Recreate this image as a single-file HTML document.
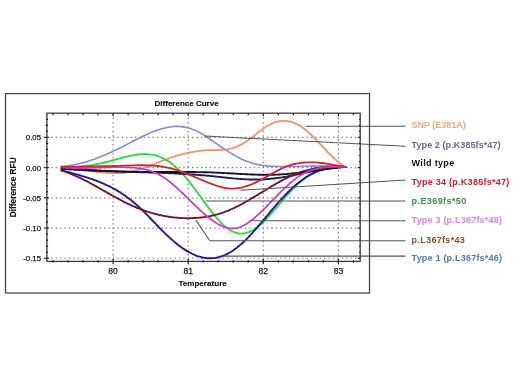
<!DOCTYPE html>
<html><head><meta charset="utf-8"><style>
html,body{margin:0;padding:0;background:#fff;}
svg{display:block;will-change:transform;filter:blur(0.35px);}
</style></head><body>
<svg width="520" height="390" viewBox="0 0 520 390">
<rect width="520" height="390" fill="#fff"/>
<g stroke="#7a7a7a" stroke-width="1.2" stroke-dasharray="1.4 3" fill="none"><line x1="113.10" y1="113.2" x2="113.10" y2="261.4"/><line x1="188.20" y1="113.2" x2="188.20" y2="261.4"/><line x1="263.30" y1="113.2" x2="263.30" y2="261.4"/><line x1="338.40" y1="113.2" x2="338.40" y2="261.4"/><line x1="46.9" y1="137.38" x2="360.2" y2="137.38"/><line x1="46.9" y1="167.60" x2="360.2" y2="167.60"/><line x1="46.9" y1="197.82" x2="360.2" y2="197.82"/><line x1="46.9" y1="228.05" x2="360.2" y2="228.05"/><line x1="46.9" y1="258.27" x2="360.2" y2="258.27"/></g>
<path d="M61.50,166.40 C61.83,166.37 62.83,166.31 63.50,166.25 C64.17,166.19 64.83,166.13 65.50,166.05 C66.17,165.98 66.83,165.90 67.50,165.82 C68.17,165.73 68.83,165.64 69.50,165.54 C70.17,165.44 70.83,165.34 71.50,165.22 C72.17,165.11 72.83,164.99 73.50,164.87 C74.17,164.74 74.83,164.61 75.50,164.47 C76.17,164.34 76.83,164.19 77.50,164.04 C78.17,163.89 78.83,163.74 79.50,163.58 C80.17,163.41 80.83,163.25 81.50,163.07 C82.17,162.90 82.83,162.72 83.50,162.54 C84.17,162.35 84.83,162.16 85.50,161.97 C86.17,161.77 86.83,161.57 87.50,161.37 C88.17,161.16 88.83,160.95 89.50,160.74 C90.17,160.52 90.83,160.30 91.50,160.07 C92.17,159.85 92.83,159.62 93.50,159.38 C94.17,159.15 94.83,158.91 95.50,158.66 C96.17,158.42 96.83,158.17 97.50,157.92 C98.17,157.67 98.83,157.41 99.50,157.15 C100.17,156.88 100.83,156.62 101.50,156.35 C102.17,156.08 102.83,155.80 103.50,155.53 C104.17,155.25 104.83,154.97 105.50,154.68 C106.17,154.40 106.83,154.11 107.50,153.81 C108.17,153.52 108.83,153.23 109.50,152.93 C110.17,152.63 110.83,152.32 111.50,152.02 C112.17,151.71 112.83,151.40 113.50,151.09 C114.17,150.78 114.83,150.46 115.50,150.14 C116.17,149.83 116.83,149.50 117.50,149.18 C118.17,148.86 118.83,148.53 119.50,148.20 C120.17,147.87 120.83,147.54 121.50,147.20 C122.17,146.87 122.83,146.53 123.50,146.20 C124.17,145.86 124.83,145.52 125.50,145.17 C126.17,144.83 126.83,144.49 127.50,144.14 C128.17,143.79 128.83,143.45 129.50,143.10 C130.17,142.75 130.83,142.41 131.50,142.06 C132.17,141.71 132.83,141.37 133.50,141.02 C134.17,140.68 134.83,140.33 135.50,139.99 C136.17,139.64 136.83,139.30 137.50,138.96 C138.17,138.62 138.83,138.29 139.50,137.95 C140.17,137.62 140.83,137.29 141.50,136.96 C142.17,136.63 142.83,136.30 143.50,135.98 C144.17,135.66 144.83,135.35 145.50,135.04 C146.17,134.72 146.83,134.42 147.50,134.12 C148.17,133.81 148.83,133.52 149.50,133.23 C150.17,132.94 150.83,132.65 151.50,132.38 C152.17,132.10 152.83,131.83 153.50,131.57 C154.17,131.30 154.83,131.05 155.50,130.80 C156.17,130.55 156.83,130.31 157.50,130.08 C158.17,129.85 158.83,129.63 159.50,129.41 C160.17,129.20 160.83,129.00 161.50,128.80 C162.17,128.61 162.83,128.42 163.50,128.25 C164.17,128.08 164.83,127.91 165.50,127.76 C166.17,127.61 166.83,127.47 167.50,127.34 C168.17,127.21 168.83,127.09 169.50,126.99 C170.17,126.89 170.83,126.79 171.50,126.71 C172.17,126.64 172.83,126.57 173.50,126.52 C174.17,126.47 174.83,126.43 175.50,126.40 C176.17,126.38 176.83,126.37 177.50,126.38 C178.17,126.38 178.83,126.40 179.50,126.44 C180.17,126.48 180.83,126.53 181.50,126.60 C182.17,126.67 182.83,126.75 183.50,126.85 C184.17,126.95 184.83,127.07 185.50,127.21 C186.17,127.35 186.83,127.50 187.50,127.67 C188.17,127.85 188.83,128.04 189.50,128.25 C190.17,128.46 190.83,128.69 191.50,128.93 C192.17,129.18 192.83,129.44 193.50,129.72 C194.17,130.01 194.83,130.30 195.50,130.62 C196.17,130.93 196.83,131.26 197.50,131.60 C198.17,131.94 198.83,132.30 199.50,132.66 C200.17,133.03 200.83,133.41 201.50,133.80 C202.17,134.19 202.83,134.59 203.50,134.99 C204.17,135.40 204.83,135.82 205.50,136.25 C206.17,136.67 206.83,137.11 207.50,137.54 C208.17,137.98 208.83,138.43 209.50,138.88 C210.17,139.33 210.83,139.78 211.50,140.24 C212.17,140.70 212.83,141.16 213.50,141.62 C214.17,142.08 214.83,142.55 215.50,143.01 C216.17,143.47 216.83,143.94 217.50,144.40 C218.17,144.86 218.83,145.32 219.50,145.78 C220.17,146.24 220.83,146.69 221.50,147.15 C222.17,147.60 222.83,148.05 223.50,148.49 C224.17,148.93 224.83,149.37 225.50,149.81 C226.17,150.24 226.83,150.67 227.50,151.09 C228.17,151.52 228.83,151.94 229.50,152.35 C230.17,152.76 230.83,153.17 231.50,153.56 C232.17,153.96 232.83,154.36 233.50,154.74 C234.17,155.13 234.83,155.51 235.50,155.88 C236.17,156.25 236.83,156.61 237.50,156.96 C238.17,157.32 238.83,157.66 239.50,158.00 C240.17,158.33 240.83,158.66 241.50,158.98 C242.17,159.29 242.83,159.60 243.50,159.90 C244.17,160.20 244.83,160.48 245.50,160.76 C246.17,161.04 246.83,161.30 247.50,161.55 C248.17,161.81 248.83,162.05 249.50,162.28 C250.17,162.51 250.83,162.73 251.50,162.93 C252.17,163.14 252.83,163.33 253.50,163.52 C254.17,163.70 254.83,163.87 255.50,164.03 C256.17,164.19 256.83,164.35 257.50,164.49 C258.17,164.63 258.83,164.76 259.50,164.88 C260.17,165.01 260.83,165.12 261.50,165.22 C262.17,165.33 262.83,165.43 263.50,165.52 C264.17,165.61 264.83,165.69 265.50,165.76 C266.17,165.84 266.83,165.90 267.50,165.97 C268.17,166.03 268.83,166.08 269.50,166.13 C270.17,166.18 270.83,166.22 271.50,166.26 C272.17,166.30 272.83,166.34 273.50,166.37 C274.17,166.40 274.83,166.42 275.50,166.44 C276.17,166.46 276.83,166.48 277.50,166.50 C278.17,166.51 278.83,166.53 279.50,166.54 C280.17,166.55 280.83,166.56 281.50,166.56 C282.17,166.57 282.83,166.57 283.50,166.57 C284.17,166.58 284.83,166.58 285.50,166.58 C286.17,166.58 286.83,166.58 287.50,166.57 C288.17,166.57 288.83,166.56 289.50,166.56 C290.17,166.55 290.83,166.54 291.50,166.54 C292.17,166.53 292.83,166.52 293.50,166.51 C294.17,166.50 294.83,166.49 295.50,166.47 C296.17,166.46 296.83,166.45 297.50,166.44 C298.17,166.42 298.83,166.41 299.50,166.40 C300.17,166.38 300.83,166.37 301.50,166.35 C302.17,166.34 302.83,166.32 303.50,166.31 C304.17,166.30 304.83,166.28 305.50,166.27 C306.17,166.25 306.83,166.24 307.50,166.22 C308.17,166.21 308.83,166.20 309.50,166.18 C310.17,166.17 310.83,166.16 311.50,166.15 C312.17,166.13 312.83,166.12 313.50,166.11 C314.17,166.10 314.83,166.09 315.50,166.09 C316.17,166.08 316.83,166.07 317.50,166.06 C318.17,166.06 318.83,166.05 319.50,166.05 C320.17,166.05 320.83,166.04 321.50,166.04 C322.17,166.04 322.83,166.04 323.50,166.05 C324.17,166.05 324.83,166.05 325.50,166.06 C326.17,166.07 326.83,166.08 327.50,166.09 C328.17,166.10 328.83,166.11 329.50,166.12 C330.17,166.14 330.83,166.16 331.50,166.18 C332.17,166.19 332.83,166.22 333.50,166.24 C334.17,166.27 334.83,166.29 335.50,166.32 C336.17,166.35 336.83,166.39 337.50,166.42 C338.17,166.46 338.83,166.49 339.50,166.54 C340.17,166.58 340.83,166.62 341.50,166.67 C342.17,166.72 342.83,166.77 343.50,166.83 C344.17,166.88 345.17,166.97 345.50,167.00" stroke="#8a86d4" stroke-width="1.6" fill="none" stroke-linejoin="round" stroke-linecap="round"/>
<path d="M61.50,168.00 C61.83,168.01 62.83,168.03 63.50,168.05 C64.17,168.07 64.83,168.10 65.50,168.13 C66.17,168.17 66.83,168.21 67.50,168.25 C68.17,168.29 68.83,168.34 69.50,168.40 C70.17,168.45 70.83,168.51 71.50,168.57 C72.17,168.63 72.83,168.70 73.50,168.77 C74.17,168.84 74.83,168.91 75.50,168.99 C76.17,169.06 76.83,169.14 77.50,169.22 C78.17,169.31 78.83,169.39 79.50,169.48 C80.17,169.56 80.83,169.65 81.50,169.74 C82.17,169.83 82.83,169.92 83.50,170.01 C84.17,170.11 84.83,170.20 85.50,170.29 C86.17,170.39 86.83,170.48 87.50,170.58 C88.17,170.67 88.83,170.77 89.50,170.86 C90.17,170.95 90.83,171.05 91.50,171.14 C92.17,171.23 92.83,171.33 93.50,171.42 C94.17,171.51 94.83,171.60 95.50,171.68 C96.17,171.77 96.83,171.85 97.50,171.94 C98.17,172.02 98.83,172.10 99.50,172.18 C100.17,172.25 100.83,172.33 101.50,172.40 C102.17,172.47 102.83,172.54 103.50,172.60 C104.17,172.67 104.83,172.73 105.50,172.78 C106.17,172.84 106.83,172.89 107.50,172.93 C108.17,172.98 108.83,173.02 109.50,173.05 C110.17,173.09 110.83,173.12 111.50,173.15 C112.17,173.17 112.83,173.19 113.50,173.20 C114.17,173.21 114.83,173.22 115.50,173.22 C116.17,173.22 116.83,173.21 117.50,173.19 C118.17,173.18 118.83,173.15 119.50,173.12 C120.17,173.09 120.83,173.05 121.50,173.01 C122.17,172.96 122.83,172.91 123.50,172.84 C124.17,172.78 124.83,172.70 125.50,172.62 C126.17,172.54 126.83,172.45 127.50,172.35 C128.17,172.24 128.83,172.13 129.50,172.01 C130.17,171.89 130.83,171.76 131.50,171.61 C132.17,171.47 132.83,171.32 133.50,171.16 C134.17,171.00 134.83,170.83 135.50,170.65 C136.17,170.47 136.83,170.28 137.50,170.09 C138.17,169.89 138.83,169.69 139.50,169.48 C140.17,169.27 140.83,169.06 141.50,168.84 C142.17,168.62 142.83,168.39 143.50,168.15 C144.17,167.92 144.83,167.68 145.50,167.44 C146.17,167.20 146.83,166.95 147.50,166.70 C148.17,166.45 148.83,166.19 149.50,165.94 C150.17,165.68 150.83,165.42 151.50,165.16 C152.17,164.90 152.83,164.63 153.50,164.36 C154.17,164.10 154.83,163.83 155.50,163.56 C156.17,163.30 156.83,163.03 157.50,162.76 C158.17,162.49 158.83,162.22 159.50,161.95 C160.17,161.69 160.83,161.42 161.50,161.16 C162.17,160.89 162.83,160.63 163.50,160.37 C164.17,160.11 164.83,159.85 165.50,159.60 C166.17,159.34 166.83,159.09 167.50,158.84 C168.17,158.60 168.83,158.35 169.50,158.12 C170.17,157.88 170.83,157.65 171.50,157.42 C172.17,157.19 172.83,156.97 173.50,156.75 C174.17,156.53 174.83,156.32 175.50,156.11 C176.17,155.90 176.83,155.70 177.50,155.50 C178.17,155.30 178.83,155.11 179.50,154.93 C180.17,154.74 180.83,154.56 181.50,154.38 C182.17,154.20 182.83,154.03 183.50,153.87 C184.17,153.70 184.83,153.54 185.50,153.38 C186.17,153.23 186.83,153.08 187.50,152.93 C188.17,152.79 188.83,152.65 189.50,152.51 C190.17,152.38 190.83,152.25 191.50,152.13 C192.17,152.01 192.83,151.89 193.50,151.78 C194.17,151.66 194.83,151.56 195.50,151.45 C196.17,151.35 196.83,151.26 197.50,151.17 C198.17,151.08 198.83,150.99 199.50,150.91 C200.17,150.83 200.83,150.76 201.50,150.69 C202.17,150.62 202.83,150.56 203.50,150.51 C204.17,150.45 204.83,150.40 205.50,150.35 C206.17,150.31 206.83,150.27 207.50,150.23 C208.17,150.20 208.83,150.17 209.50,150.15 C210.17,150.13 210.83,150.11 211.50,150.10 C212.17,150.08 212.83,150.08 213.50,150.07 C214.17,150.06 214.83,150.06 215.50,150.05 C216.17,150.04 216.83,150.04 217.50,150.03 C218.17,150.02 218.83,150.01 219.50,149.99 C220.17,149.96 220.83,149.94 221.50,149.91 C222.17,149.87 222.83,149.83 223.50,149.78 C224.17,149.73 224.83,149.67 225.50,149.59 C226.17,149.52 226.83,149.43 227.50,149.33 C228.17,149.22 228.83,149.10 229.50,148.97 C230.17,148.83 230.83,148.68 231.50,148.50 C232.17,148.33 232.83,148.13 233.50,147.91 C234.17,147.70 234.83,147.46 235.50,147.20 C236.17,146.94 236.83,146.66 237.50,146.36 C238.17,146.06 238.83,145.74 239.50,145.41 C240.17,145.07 240.83,144.72 241.50,144.35 C242.17,143.98 242.83,143.59 243.50,143.19 C244.17,142.79 244.83,142.37 245.50,141.94 C246.17,141.51 246.83,141.06 247.50,140.60 C248.17,140.14 248.83,139.67 249.50,139.19 C250.17,138.71 250.83,138.21 251.50,137.71 C252.17,137.20 252.83,136.69 253.50,136.17 C254.17,135.66 254.83,135.13 255.50,134.61 C256.17,134.09 256.83,133.56 257.50,133.04 C258.17,132.52 258.83,132.00 259.50,131.49 C260.17,130.98 260.83,130.47 261.50,129.97 C262.17,129.48 262.83,128.99 263.50,128.51 C264.17,128.04 264.83,127.58 265.50,127.13 C266.17,126.69 266.83,126.26 267.50,125.85 C268.17,125.45 268.83,125.06 269.50,124.70 C270.17,124.34 270.83,124.00 271.50,123.69 C272.17,123.38 272.83,123.09 273.50,122.83 C274.17,122.57 274.83,122.33 275.50,122.12 C276.17,121.91 276.83,121.72 277.50,121.56 C278.17,121.40 278.83,121.27 279.50,121.16 C280.17,121.05 280.83,120.97 281.50,120.91 C282.17,120.85 282.83,120.82 283.50,120.81 C284.17,120.80 284.83,120.82 285.50,120.87 C286.17,120.91 286.83,120.98 287.50,121.07 C288.17,121.17 288.83,121.29 289.50,121.44 C290.17,121.58 290.83,121.76 291.50,121.95 C292.17,122.15 292.83,122.38 293.50,122.63 C294.17,122.88 294.83,123.15 295.50,123.46 C296.17,123.76 296.83,124.08 297.50,124.44 C298.17,124.79 298.83,125.17 299.50,125.58 C300.17,125.98 300.83,126.42 301.50,126.87 C302.17,127.33 302.83,127.81 303.50,128.32 C304.17,128.82 304.83,129.34 305.50,129.89 C306.17,130.43 306.83,131.00 307.50,131.58 C308.17,132.16 308.83,132.76 309.50,133.37 C310.17,133.98 310.83,134.61 311.50,135.25 C312.17,135.89 312.83,136.55 313.50,137.21 C314.17,137.87 314.83,138.55 315.50,139.23 C316.17,139.91 316.83,140.60 317.50,141.29 C318.17,141.98 318.83,142.68 319.50,143.38 C320.17,144.09 320.83,144.79 321.50,145.50 C322.17,146.20 322.83,146.91 323.50,147.61 C324.17,148.31 324.83,149.02 325.50,149.71 C326.17,150.41 326.83,151.11 327.50,151.79 C328.17,152.48 328.83,153.16 329.50,153.83 C330.17,154.50 330.83,155.17 331.50,155.82 C332.17,156.47 332.83,157.11 333.50,157.73 C334.17,158.36 334.83,158.97 335.50,159.57 C336.17,160.16 336.83,160.74 337.50,161.30 C338.17,161.86 338.83,162.41 339.50,162.93 C340.17,163.45 340.83,163.95 341.50,164.43 C342.17,164.91 342.83,165.36 343.50,165.79 C344.17,166.22 345.17,166.80 345.50,167.00" stroke="#e8956a" stroke-width="1.8" fill="none" stroke-linejoin="round" stroke-linecap="round"/>
<path d="M61.50,167.00 C61.83,167.02 62.83,167.07 63.50,167.10 C64.17,167.13 64.83,167.15 65.50,167.16 C66.17,167.18 66.83,167.19 67.50,167.19 C68.17,167.19 68.83,167.19 69.50,167.19 C70.17,167.18 70.83,167.16 71.50,167.15 C72.17,167.13 72.83,167.10 73.50,167.08 C74.17,167.05 74.83,167.01 75.50,166.97 C76.17,166.94 76.83,166.89 77.50,166.84 C78.17,166.79 78.83,166.74 79.50,166.68 C80.17,166.62 80.83,166.56 81.50,166.49 C82.17,166.42 82.83,166.35 83.50,166.27 C84.17,166.19 84.83,166.11 85.50,166.02 C86.17,165.94 86.83,165.85 87.50,165.75 C88.17,165.66 88.83,165.56 89.50,165.45 C90.17,165.35 90.83,165.24 91.50,165.13 C92.17,165.02 92.83,164.90 93.50,164.78 C94.17,164.67 94.83,164.54 95.50,164.42 C96.17,164.29 96.83,164.16 97.50,164.02 C98.17,163.89 98.83,163.75 99.50,163.61 C100.17,163.47 100.83,163.33 101.50,163.18 C102.17,163.03 102.83,162.88 103.50,162.73 C104.17,162.57 104.83,162.42 105.50,162.26 C106.17,162.10 106.83,161.93 107.50,161.77 C108.17,161.60 108.83,161.43 109.50,161.26 C110.17,161.09 110.83,160.92 111.50,160.74 C112.17,160.56 112.83,160.38 113.50,160.20 C114.17,160.02 114.83,159.84 115.50,159.65 C116.17,159.47 116.83,159.28 117.50,159.09 C118.17,158.91 118.83,158.72 119.50,158.54 C120.17,158.35 120.83,158.17 121.50,157.99 C122.17,157.80 122.83,157.62 123.50,157.44 C124.17,157.27 124.83,157.09 125.50,156.92 C126.17,156.75 126.83,156.58 127.50,156.42 C128.17,156.26 128.83,156.11 129.50,155.96 C130.17,155.81 130.83,155.66 131.50,155.52 C132.17,155.39 132.83,155.26 133.50,155.14 C134.17,155.01 134.83,154.90 135.50,154.80 C136.17,154.69 136.83,154.60 137.50,154.51 C138.17,154.43 138.83,154.35 139.50,154.29 C140.17,154.22 140.83,154.17 141.50,154.13 C142.17,154.09 142.83,154.06 143.50,154.05 C144.17,154.04 144.83,154.03 145.50,154.05 C146.17,154.06 146.83,154.09 147.50,154.13 C148.17,154.18 148.83,154.23 149.50,154.31 C150.17,154.39 150.83,154.48 151.50,154.59 C152.17,154.69 152.83,154.82 153.50,154.96 C154.17,155.11 154.83,155.27 155.50,155.45 C156.17,155.63 156.83,155.82 157.50,156.04 C158.17,156.26 158.83,156.49 159.50,156.75 C160.17,157.00 160.83,157.28 161.50,157.57 C162.17,157.86 162.83,158.18 163.50,158.51 C164.17,158.84 164.83,159.20 165.50,159.57 C166.17,159.95 166.83,160.35 167.50,160.76 C168.17,161.18 168.83,161.62 169.50,162.08 C170.17,162.55 170.83,163.03 171.50,163.53 C172.17,164.04 172.83,164.57 173.50,165.12 C174.17,165.67 174.83,166.25 175.50,166.84 C176.17,167.44 176.83,168.06 177.50,168.69 C178.17,169.33 178.83,169.99 179.50,170.67 C180.17,171.34 180.83,172.04 181.50,172.75 C182.17,173.46 182.83,174.19 183.50,174.94 C184.17,175.69 184.83,176.45 185.50,177.23 C186.17,178.00 186.83,178.80 187.50,179.61 C188.17,180.41 188.83,181.23 189.50,182.07 C190.17,182.90 190.83,183.75 191.50,184.61 C192.17,185.46 192.83,186.33 193.50,187.21 C194.17,188.09 194.83,188.98 195.50,189.88 C196.17,190.78 196.83,191.68 197.50,192.59 C198.17,193.51 198.83,194.43 199.50,195.34 C200.17,196.26 200.83,197.19 201.50,198.11 C202.17,199.03 202.83,199.96 203.50,200.88 C204.17,201.80 204.83,202.72 205.50,203.63 C206.17,204.55 206.83,205.46 207.50,206.36 C208.17,207.26 208.83,208.15 209.50,209.03 C210.17,209.91 210.83,210.79 211.50,211.64 C212.17,212.50 212.83,213.35 213.50,214.18 C214.17,215.00 214.83,215.82 215.50,216.61 C216.17,217.41 216.83,218.18 217.50,218.94 C218.17,219.69 218.83,220.43 219.50,221.13 C220.17,221.84 220.83,222.53 221.50,223.19 C222.17,223.85 222.83,224.48 223.50,225.09 C224.17,225.69 224.83,226.27 225.50,226.82 C226.17,227.37 226.83,227.89 227.50,228.38 C228.17,228.87 228.83,229.33 229.50,229.76 C230.17,230.18 230.83,230.58 231.50,230.94 C232.17,231.30 232.83,231.63 233.50,231.93 C234.17,232.22 234.83,232.48 235.50,232.70 C236.17,232.92 236.83,233.10 237.50,233.25 C238.17,233.39 238.83,233.50 239.50,233.57 C240.17,233.64 240.83,233.67 241.50,233.66 C242.17,233.64 242.83,233.59 243.50,233.51 C244.17,233.42 244.83,233.30 245.50,233.14 C246.17,232.98 246.83,232.78 247.50,232.56 C248.17,232.33 248.83,232.07 249.50,231.78 C250.17,231.49 250.83,231.16 251.50,230.81 C252.17,230.46 252.83,230.08 253.50,229.67 C254.17,229.26 254.83,228.83 255.50,228.37 C256.17,227.91 256.83,227.42 257.50,226.91 C258.17,226.40 258.83,225.86 259.50,225.31 C260.17,224.75 260.83,224.18 261.50,223.58 C262.17,222.98 262.83,222.37 263.50,221.73 C264.17,221.10 264.83,220.44 265.50,219.78 C266.17,219.11 266.83,218.42 267.50,217.73 C268.17,217.03 268.83,216.32 269.50,215.60 C270.17,214.88 270.83,214.14 271.50,213.40 C272.17,212.66 272.83,211.90 273.50,211.15 C274.17,210.39 274.83,209.62 275.50,208.85 C276.17,208.08 276.83,207.30 277.50,206.52 C278.17,205.75 278.83,204.96 279.50,204.18 C280.17,203.40 280.83,202.61 281.50,201.83 C282.17,201.05 282.83,200.27 283.50,199.50 C284.17,198.72 284.83,197.95 285.50,197.18 C286.17,196.41 286.83,195.65 287.50,194.90 C288.17,194.15 288.83,193.40 289.50,192.67 C290.17,191.93 290.83,191.21 291.50,190.49 C292.17,189.78 292.83,189.08 293.50,188.39 C294.17,187.71 294.83,187.03 295.50,186.38 C296.17,185.72 296.83,185.08 297.50,184.46 C298.17,183.85 298.83,183.24 299.50,182.66 C300.17,182.08 300.83,181.52 301.50,180.98 C302.17,180.44 302.83,179.93 303.50,179.43 C304.17,178.93 304.83,178.45 305.50,177.99 C306.17,177.53 306.83,177.09 307.50,176.67 C308.17,176.25 308.83,175.85 309.50,175.46 C310.17,175.08 310.83,174.71 311.50,174.36 C312.17,174.01 312.83,173.67 313.50,173.35 C314.17,173.03 314.83,172.73 315.50,172.44 C316.17,172.15 316.83,171.88 317.50,171.62 C318.17,171.37 318.83,171.12 319.50,170.89 C320.17,170.66 320.83,170.44 321.50,170.24 C322.17,170.03 322.83,169.84 323.50,169.66 C324.17,169.48 324.83,169.32 325.50,169.16 C326.17,169.00 326.83,168.86 327.50,168.72 C328.17,168.59 328.83,168.46 329.50,168.35 C330.17,168.23 330.83,168.13 331.50,168.03 C332.17,167.93 332.83,167.85 333.50,167.76 C334.17,167.68 334.83,167.61 335.50,167.55 C336.17,167.48 336.83,167.42 337.50,167.37 C338.17,167.32 338.83,167.27 339.50,167.23 C340.17,167.19 340.83,167.16 341.50,167.13 C342.17,167.10 342.83,167.07 343.50,167.05 C344.17,167.03 345.17,167.01 345.50,167.00" stroke="#30d840" stroke-width="1.85" fill="none" stroke-linejoin="round" stroke-linecap="round"/>
<path d="M61.50,170.30 C61.83,170.39 62.83,170.67 63.50,170.85 C64.17,171.03 64.83,171.21 65.50,171.39 C66.17,171.57 66.83,171.75 67.50,171.93 C68.17,172.11 68.83,172.29 69.50,172.47 C70.17,172.65 70.83,172.83 71.50,173.01 C72.17,173.20 72.83,173.38 73.50,173.56 C74.17,173.74 74.83,173.93 75.50,174.11 C76.17,174.30 76.83,174.48 77.50,174.67 C78.17,174.86 78.83,175.05 79.50,175.24 C80.17,175.44 80.83,175.63 81.50,175.83 C82.17,176.02 82.83,176.22 83.50,176.42 C84.17,176.63 84.83,176.83 85.50,177.04 C86.17,177.25 86.83,177.46 87.50,177.67 C88.17,177.89 88.83,178.10 89.50,178.33 C90.17,178.55 90.83,178.77 91.50,179.00 C92.17,179.23 92.83,179.47 93.50,179.70 C94.17,179.94 94.83,180.18 95.50,180.43 C96.17,180.68 96.83,180.93 97.50,181.19 C98.17,181.45 98.83,181.71 99.50,181.98 C100.17,182.25 100.83,182.52 101.50,182.80 C102.17,183.08 102.83,183.37 103.50,183.66 C104.17,183.95 104.83,184.25 105.50,184.56 C106.17,184.86 106.83,185.17 107.50,185.49 C108.17,185.81 108.83,186.14 109.50,186.47 C110.17,186.80 110.83,187.14 111.50,187.49 C112.17,187.84 112.83,188.19 113.50,188.56 C114.17,188.92 114.83,189.29 115.50,189.67 C116.17,190.05 116.83,190.44 117.50,190.84 C118.17,191.23 118.83,191.64 119.50,192.06 C120.17,192.47 120.83,192.89 121.50,193.33 C122.17,193.76 122.83,194.20 123.50,194.66 C124.17,195.11 124.83,195.57 125.50,196.04 C126.17,196.52 126.83,197.00 127.50,197.49 C128.17,197.98 128.83,198.49 129.50,199.00 C130.17,199.52 130.83,200.04 131.50,200.58 C132.17,201.11 132.83,201.66 133.50,202.22 C134.17,202.78 134.83,203.35 135.50,203.93 C136.17,204.51 136.83,205.11 137.50,205.71 C138.17,206.32 138.83,206.93 139.50,207.56 C140.17,208.18 140.83,208.82 141.50,209.46 C142.17,210.10 142.83,210.75 143.50,211.41 C144.17,212.06 144.83,212.73 145.50,213.40 C146.17,214.06 146.83,214.74 147.50,215.42 C148.17,216.10 148.83,216.78 149.50,217.46 C150.17,218.15 150.83,218.84 151.50,219.53 C152.17,220.22 152.83,220.91 153.50,221.60 C154.17,222.29 154.83,222.98 155.50,223.67 C156.17,224.37 156.83,225.06 157.50,225.74 C158.17,226.43 158.83,227.12 159.50,227.80 C160.17,228.48 160.83,229.16 161.50,229.83 C162.17,230.50 162.83,231.17 163.50,231.84 C164.17,232.50 164.83,233.15 165.50,233.80 C166.17,234.45 166.83,235.09 167.50,235.73 C168.17,236.36 168.83,236.98 169.50,237.60 C170.17,238.21 170.83,238.81 171.50,239.41 C172.17,240.00 172.83,240.58 173.50,241.15 C174.17,241.72 174.83,242.28 175.50,242.83 C176.17,243.38 176.83,243.92 177.50,244.44 C178.17,244.96 178.83,245.48 179.50,245.98 C180.17,246.48 180.83,246.96 181.50,247.44 C182.17,247.91 182.83,248.37 183.50,248.82 C184.17,249.26 184.83,249.70 185.50,250.12 C186.17,250.54 186.83,250.94 187.50,251.33 C188.17,251.72 188.83,252.10 189.50,252.46 C190.17,252.82 190.83,253.17 191.50,253.50 C192.17,253.83 192.83,254.14 193.50,254.44 C194.17,254.74 194.83,255.02 195.50,255.29 C196.17,255.55 196.83,255.80 197.50,256.03 C198.17,256.27 198.83,256.48 199.50,256.68 C200.17,256.88 200.83,257.06 201.50,257.22 C202.17,257.38 202.83,257.53 203.50,257.65 C204.17,257.78 204.83,257.89 205.50,257.97 C206.17,258.06 206.83,258.13 207.50,258.18 C208.17,258.23 208.83,258.26 209.50,258.27 C210.17,258.28 210.83,258.27 211.50,258.25 C212.17,258.22 212.83,258.17 213.50,258.10 C214.17,258.03 214.83,257.95 215.50,257.84 C216.17,257.73 216.83,257.61 217.50,257.46 C218.17,257.31 218.83,257.15 219.50,256.96 C220.17,256.78 220.83,256.57 221.50,256.35 C222.17,256.12 222.83,255.88 223.50,255.61 C224.17,255.35 224.83,255.07 225.50,254.76 C226.17,254.46 226.83,254.14 227.50,253.79 C228.17,253.45 228.83,253.09 229.50,252.71 C230.17,252.32 230.83,251.92 231.50,251.50 C232.17,251.08 232.83,250.64 233.50,250.18 C234.17,249.72 234.83,249.24 235.50,248.75 C236.17,248.26 236.83,247.74 237.50,247.21 C238.17,246.68 238.83,246.14 239.50,245.58 C240.17,245.01 240.83,244.43 241.50,243.84 C242.17,243.25 242.83,242.64 243.50,242.01 C244.17,241.39 244.83,240.75 245.50,240.10 C246.17,239.45 246.83,238.78 247.50,238.10 C248.17,237.42 248.83,236.73 249.50,236.03 C250.17,235.32 250.83,234.61 251.50,233.88 C252.17,233.16 252.83,232.42 253.50,231.68 C254.17,230.94 254.83,230.18 255.50,229.43 C256.17,228.67 256.83,227.90 257.50,227.13 C258.17,226.35 258.83,225.57 259.50,224.79 C260.17,224.01 260.83,223.22 261.50,222.43 C262.17,221.64 262.83,220.84 263.50,220.05 C264.17,219.25 264.83,218.45 265.50,217.65 C266.17,216.85 266.83,216.05 267.50,215.25 C268.17,214.45 268.83,213.65 269.50,212.86 C270.17,212.06 270.83,211.26 271.50,210.47 C272.17,209.68 272.83,208.89 273.50,208.11 C274.17,207.33 274.83,206.55 275.50,205.77 C276.17,205.00 276.83,204.23 277.50,203.47 C278.17,202.71 278.83,201.96 279.50,201.22 C280.17,200.47 280.83,199.74 281.50,199.01 C282.17,198.29 282.83,197.57 283.50,196.86 C284.17,196.15 284.83,195.46 285.50,194.77 C286.17,194.08 286.83,193.40 287.50,192.73 C288.17,192.06 288.83,191.41 289.50,190.76 C290.17,190.11 290.83,189.48 291.50,188.85 C292.17,188.23 292.83,187.61 293.50,187.01 C294.17,186.41 294.83,185.82 295.50,185.24 C296.17,184.67 296.83,184.10 297.50,183.55 C298.17,183.00 298.83,182.46 299.50,181.93 C300.17,181.40 300.83,180.89 301.50,180.39 C302.17,179.89 302.83,179.40 303.50,178.93 C304.17,178.46 304.83,178.00 305.50,177.56 C306.17,177.12 306.83,176.69 307.50,176.27 C308.17,175.86 308.83,175.46 309.50,175.08 C310.17,174.70 310.83,174.33 311.50,173.98 C312.17,173.63 312.83,173.29 313.50,172.97 C314.17,172.64 314.83,172.34 315.50,172.05 C316.17,171.75 316.83,171.47 317.50,171.21 C318.17,170.95 318.83,170.69 319.50,170.46 C320.17,170.22 320.83,170.00 321.50,169.79 C322.17,169.58 322.83,169.38 323.50,169.19 C324.17,169.01 324.83,168.83 325.50,168.67 C326.17,168.51 326.83,168.36 327.50,168.23 C328.17,168.09 328.83,167.97 329.50,167.85 C330.17,167.74 330.83,167.63 331.50,167.54 C332.17,167.45 332.83,167.37 333.50,167.29 C334.17,167.22 334.83,167.16 335.50,167.11 C336.17,167.06 336.83,167.01 337.50,166.98 C338.17,166.95 338.83,166.93 339.50,166.91 C340.17,166.90 340.83,166.89 341.50,166.89 C342.17,166.89 342.83,166.90 343.50,166.92 C344.17,166.94 345.17,166.99 345.50,167.00" stroke="#1e1a9a" stroke-width="1.9" fill="none" stroke-linejoin="round" stroke-linecap="round"/>
<path d="M61.50,168.80 C61.83,168.83 62.83,168.90 63.50,168.96 C64.17,169.01 64.83,169.06 65.50,169.11 C66.17,169.15 66.83,169.20 67.50,169.25 C68.17,169.30 68.83,169.34 69.50,169.39 C70.17,169.43 70.83,169.48 71.50,169.52 C72.17,169.57 72.83,169.61 73.50,169.65 C74.17,169.69 74.83,169.73 75.50,169.77 C76.17,169.82 76.83,169.85 77.50,169.89 C78.17,169.93 78.83,169.97 79.50,170.01 C80.17,170.05 80.83,170.08 81.50,170.12 C82.17,170.15 82.83,170.19 83.50,170.22 C84.17,170.26 84.83,170.29 85.50,170.32 C86.17,170.36 86.83,170.39 87.50,170.42 C88.17,170.45 88.83,170.49 89.50,170.52 C90.17,170.55 90.83,170.58 91.50,170.61 C92.17,170.64 92.83,170.67 93.50,170.69 C94.17,170.72 94.83,170.75 95.50,170.78 C96.17,170.81 96.83,170.83 97.50,170.86 C98.17,170.89 98.83,170.91 99.50,170.94 C100.17,170.96 100.83,170.99 101.50,171.01 C102.17,171.04 102.83,171.06 103.50,171.08 C104.17,171.11 104.83,171.13 105.50,171.15 C106.17,171.18 106.83,171.20 107.50,171.22 C108.17,171.25 108.83,171.27 109.50,171.29 C110.17,171.31 110.83,171.33 111.50,171.35 C112.17,171.38 112.83,171.40 113.50,171.42 C114.17,171.44 114.83,171.46 115.50,171.48 C116.17,171.50 116.83,171.52 117.50,171.54 C118.17,171.56 118.83,171.58 119.50,171.60 C120.17,171.62 120.83,171.64 121.50,171.65 C122.17,171.67 122.83,171.69 123.50,171.71 C124.17,171.73 124.83,171.75 125.50,171.77 C126.17,171.79 126.83,171.81 127.50,171.82 C128.17,171.84 128.83,171.86 129.50,171.88 C130.17,171.90 130.83,171.92 131.50,171.94 C132.17,171.95 132.83,171.97 133.50,171.99 C134.17,172.01 134.83,172.03 135.50,172.05 C136.17,172.07 136.83,172.09 137.50,172.10 C138.17,172.12 138.83,172.14 139.50,172.16 C140.17,172.18 140.83,172.20 141.50,172.22 C142.17,172.24 142.83,172.26 143.50,172.28 C144.17,172.30 144.83,172.32 145.50,172.34 C146.17,172.36 146.83,172.38 147.50,172.40 C148.17,172.42 148.83,172.44 149.50,172.46 C150.17,172.48 150.83,172.51 151.50,172.53 C152.17,172.55 152.83,172.57 153.50,172.59 C154.17,172.62 154.83,172.64 155.50,172.66 C156.17,172.68 156.83,172.71 157.50,172.73 C158.17,172.76 158.83,172.78 159.50,172.80 C160.17,172.83 160.83,172.85 161.50,172.88 C162.17,172.91 162.83,172.93 163.50,172.96 C164.17,172.98 164.83,173.01 165.50,173.04 C166.17,173.07 166.83,173.09 167.50,173.12 C168.17,173.15 168.83,173.18 169.50,173.21 C170.17,173.24 170.83,173.27 171.50,173.30 C172.17,173.33 172.83,173.36 173.50,173.39 C174.17,173.43 174.83,173.46 175.50,173.49 C176.17,173.52 176.83,173.56 177.50,173.59 C178.17,173.63 178.83,173.66 179.50,173.70 C180.17,173.73 180.83,173.77 181.50,173.81 C182.17,173.85 182.83,173.88 183.50,173.92 C184.17,173.96 184.83,174.00 185.50,174.04 C186.17,174.08 186.83,174.12 187.50,174.17 C188.17,174.21 188.83,174.25 189.50,174.29 C190.17,174.34 190.83,174.38 191.50,174.43 C192.17,174.47 192.83,174.52 193.50,174.57 C194.17,174.61 194.83,174.66 195.50,174.71 C196.17,174.76 196.83,174.81 197.50,174.86 C198.17,174.91 198.83,174.96 199.50,175.02 C200.17,175.07 200.83,175.12 201.50,175.18 C202.17,175.23 202.83,175.29 203.50,175.35 C204.17,175.40 204.83,175.46 205.50,175.52 C206.17,175.58 206.83,175.64 207.50,175.70 C208.17,175.76 208.83,175.83 209.50,175.89 C210.17,175.95 210.83,176.02 211.50,176.08 C212.17,176.15 212.83,176.22 213.50,176.28 C214.17,176.35 214.83,176.42 215.50,176.49 C216.17,176.56 216.83,176.63 217.50,176.70 C218.17,176.78 218.83,176.85 219.50,176.92 C220.17,176.99 220.83,177.07 221.50,177.14 C222.17,177.21 222.83,177.29 223.50,177.36 C224.17,177.43 224.83,177.50 225.50,177.57 C226.17,177.65 226.83,177.72 227.50,177.79 C228.17,177.86 228.83,177.93 229.50,178.00 C230.17,178.07 230.83,178.13 231.50,178.20 C232.17,178.27 232.83,178.33 233.50,178.39 C234.17,178.46 234.83,178.52 235.50,178.58 C236.17,178.64 236.83,178.70 237.50,178.75 C238.17,178.81 238.83,178.86 239.50,178.91 C240.17,178.96 240.83,179.01 241.50,179.06 C242.17,179.10 242.83,179.15 243.50,179.19 C244.17,179.23 244.83,179.26 245.50,179.30 C246.17,179.33 246.83,179.36 247.50,179.39 C248.17,179.42 248.83,179.44 249.50,179.46 C250.17,179.48 250.83,179.49 251.50,179.51 C252.17,179.52 252.83,179.53 253.50,179.53 C254.17,179.53 254.83,179.53 255.50,179.53 C256.17,179.53 256.83,179.52 257.50,179.51 C258.17,179.50 258.83,179.48 259.50,179.46 C260.17,179.44 260.83,179.42 261.50,179.39 C262.17,179.37 262.83,179.34 263.50,179.30 C264.17,179.27 264.83,179.23 265.50,179.19 C266.17,179.14 266.83,179.10 267.50,179.05 C268.17,179.00 268.83,178.94 269.50,178.89 C270.17,178.83 270.83,178.77 271.50,178.70 C272.17,178.64 272.83,178.57 273.50,178.49 C274.17,178.42 274.83,178.34 275.50,178.26 C276.17,178.18 276.83,178.10 277.50,178.01 C278.17,177.92 278.83,177.83 279.50,177.73 C280.17,177.63 280.83,177.53 281.50,177.43 C282.17,177.33 282.83,177.22 283.50,177.11 C284.17,177.00 284.83,176.88 285.50,176.77 C286.17,176.65 286.83,176.53 287.50,176.41 C288.17,176.28 288.83,176.16 289.50,176.03 C290.17,175.90 290.83,175.77 291.50,175.64 C292.17,175.51 292.83,175.38 293.50,175.24 C294.17,175.11 294.83,174.97 295.50,174.83 C296.17,174.69 296.83,174.55 297.50,174.41 C298.17,174.27 298.83,174.13 299.50,173.99 C300.17,173.84 300.83,173.70 301.50,173.56 C302.17,173.41 302.83,173.27 303.50,173.13 C304.17,172.98 304.83,172.84 305.50,172.69 C306.17,172.55 306.83,172.41 307.50,172.26 C308.17,172.12 308.83,171.98 309.50,171.84 C310.17,171.70 310.83,171.56 311.50,171.42 C312.17,171.28 312.83,171.14 313.50,171.00 C314.17,170.87 314.83,170.73 315.50,170.60 C316.17,170.47 316.83,170.34 317.50,170.21 C318.17,170.08 318.83,169.95 319.50,169.83 C320.17,169.70 320.83,169.58 321.50,169.46 C322.17,169.35 322.83,169.23 323.50,169.12 C324.17,169.01 324.83,168.90 325.50,168.79 C326.17,168.69 326.83,168.58 327.50,168.48 C328.17,168.39 328.83,168.29 329.50,168.20 C330.17,168.11 330.83,168.02 331.50,167.94 C332.17,167.86 332.83,167.78 333.50,167.71 C334.17,167.64 334.83,167.57 335.50,167.51 C336.17,167.45 336.83,167.39 337.50,167.34 C338.17,167.29 338.83,167.24 339.50,167.20 C340.17,167.16 340.83,167.12 341.50,167.10 C342.17,167.07 342.83,167.04 343.50,167.03 C344.17,167.01 345.17,167.00 345.50,167.00" stroke="#1e1e52" stroke-width="1.9" fill="none" stroke-linejoin="round" stroke-linecap="round"/>
<path d="M61.50,168.60 C61.83,168.61 62.83,168.66 63.50,168.69 C64.17,168.72 64.83,168.75 65.50,168.78 C66.17,168.81 66.83,168.84 67.50,168.87 C68.17,168.91 68.83,168.94 69.50,168.97 C70.17,169.00 70.83,169.03 71.50,169.07 C72.17,169.10 72.83,169.13 73.50,169.16 C74.17,169.20 74.83,169.23 75.50,169.26 C76.17,169.30 76.83,169.33 77.50,169.36 C78.17,169.40 78.83,169.43 79.50,169.47 C80.17,169.50 80.83,169.53 81.50,169.57 C82.17,169.60 82.83,169.64 83.50,169.67 C84.17,169.71 84.83,169.74 85.50,169.77 C86.17,169.81 86.83,169.84 87.50,169.88 C88.17,169.91 88.83,169.95 89.50,169.98 C90.17,170.01 90.83,170.05 91.50,170.08 C92.17,170.12 92.83,170.15 93.50,170.18 C94.17,170.22 94.83,170.25 95.50,170.29 C96.17,170.32 96.83,170.35 97.50,170.39 C98.17,170.42 98.83,170.45 99.50,170.49 C100.17,170.52 100.83,170.55 101.50,170.58 C102.17,170.62 102.83,170.65 103.50,170.68 C104.17,170.71 104.83,170.74 105.50,170.77 C106.17,170.81 106.83,170.84 107.50,170.87 C108.17,170.90 108.83,170.93 109.50,170.96 C110.17,170.99 110.83,171.02 111.50,171.05 C112.17,171.08 112.83,171.11 113.50,171.13 C114.17,171.16 114.83,171.19 115.50,171.22 C116.17,171.24 116.83,171.27 117.50,171.30 C118.17,171.32 118.83,171.35 119.50,171.37 C120.17,171.40 120.83,171.42 121.50,171.45 C122.17,171.47 122.83,171.50 123.50,171.52 C124.17,171.54 124.83,171.56 125.50,171.59 C126.17,171.61 126.83,171.63 127.50,171.65 C128.17,171.67 128.83,171.69 129.50,171.71 C130.17,171.73 130.83,171.75 131.50,171.76 C132.17,171.78 132.83,171.80 133.50,171.81 C134.17,171.83 134.83,171.84 135.50,171.86 C136.17,171.87 136.83,171.89 137.50,171.90 C138.17,171.91 138.83,171.92 139.50,171.94 C140.17,171.95 140.83,171.96 141.50,171.97 C142.17,171.98 142.83,171.98 143.50,171.99 C144.17,172.00 144.83,172.01 145.50,172.01 C146.17,172.02 146.83,172.02 147.50,172.03 C148.17,172.03 148.83,172.04 149.50,172.04 C150.17,172.05 150.83,172.05 151.50,172.05 C152.17,172.05 152.83,172.06 153.50,172.06 C154.17,172.06 154.83,172.06 155.50,172.06 C156.17,172.06 156.83,172.06 157.50,172.06 C158.17,172.06 158.83,172.06 159.50,172.06 C160.17,172.06 160.83,172.06 161.50,172.05 C162.17,172.05 162.83,172.05 163.50,172.05 C164.17,172.05 164.83,172.05 165.50,172.04 C166.17,172.04 166.83,172.04 167.50,172.04 C168.17,172.03 168.83,172.03 169.50,172.03 C170.17,172.03 170.83,172.02 171.50,172.02 C172.17,172.02 172.83,172.02 173.50,172.02 C174.17,172.01 174.83,172.01 175.50,172.01 C176.17,172.01 176.83,172.01 177.50,172.00 C178.17,172.00 178.83,172.00 179.50,172.00 C180.17,172.00 180.83,172.00 181.50,172.00 C182.17,172.00 182.83,172.00 183.50,172.00 C184.17,172.00 184.83,172.00 185.50,172.00 C186.17,172.00 186.83,172.01 187.50,172.01 C188.17,172.01 188.83,172.01 189.50,172.02 C190.17,172.02 190.83,172.03 191.50,172.03 C192.17,172.03 192.83,172.04 193.50,172.05 C194.17,172.05 194.83,172.06 195.50,172.07 C196.17,172.07 196.83,172.08 197.50,172.09 C198.17,172.10 198.83,172.11 199.50,172.12 C200.17,172.13 200.83,172.15 201.50,172.16 C202.17,172.17 202.83,172.19 203.50,172.20 C204.17,172.22 204.83,172.23 205.50,172.25 C206.17,172.27 206.83,172.28 207.50,172.30 C208.17,172.32 208.83,172.34 209.50,172.36 C210.17,172.38 210.83,172.41 211.50,172.43 C212.17,172.46 212.83,172.48 213.50,172.51 C214.17,172.53 214.83,172.56 215.50,172.59 C216.17,172.62 216.83,172.65 217.50,172.68 C218.17,172.71 218.83,172.74 219.50,172.78 C220.17,172.81 220.83,172.84 221.50,172.88 C222.17,172.91 222.83,172.95 223.50,172.98 C224.17,173.02 224.83,173.06 225.50,173.09 C226.17,173.13 226.83,173.17 227.50,173.20 C228.17,173.24 228.83,173.28 229.50,173.32 C230.17,173.36 230.83,173.39 231.50,173.43 C232.17,173.47 232.83,173.51 233.50,173.55 C234.17,173.59 234.83,173.63 235.50,173.66 C236.17,173.70 236.83,173.74 237.50,173.78 C238.17,173.82 238.83,173.85 239.50,173.89 C240.17,173.93 240.83,173.96 241.50,174.00 C242.17,174.04 242.83,174.07 243.50,174.10 C244.17,174.14 244.83,174.17 245.50,174.21 C246.17,174.24 246.83,174.27 247.50,174.30 C248.17,174.33 248.83,174.36 249.50,174.39 C250.17,174.42 250.83,174.45 251.50,174.48 C252.17,174.50 252.83,174.53 253.50,174.55 C254.17,174.58 254.83,174.60 255.50,174.62 C256.17,174.64 256.83,174.66 257.50,174.68 C258.17,174.70 258.83,174.71 259.50,174.73 C260.17,174.74 260.83,174.75 261.50,174.76 C262.17,174.77 262.83,174.78 263.50,174.79 C264.17,174.80 264.83,174.80 265.50,174.80 C266.17,174.81 266.83,174.81 267.50,174.80 C268.17,174.80 268.83,174.80 269.50,174.79 C270.17,174.78 270.83,174.77 271.50,174.76 C272.17,174.75 272.83,174.73 273.50,174.72 C274.17,174.70 274.83,174.68 275.50,174.66 C276.17,174.63 276.83,174.61 277.50,174.58 C278.17,174.55 278.83,174.52 279.50,174.48 C280.17,174.45 280.83,174.41 281.50,174.37 C282.17,174.33 282.83,174.29 283.50,174.24 C284.17,174.19 284.83,174.14 285.50,174.09 C286.17,174.04 286.83,173.98 287.50,173.92 C288.17,173.87 288.83,173.81 289.50,173.74 C290.17,173.68 290.83,173.62 291.50,173.55 C292.17,173.48 292.83,173.41 293.50,173.34 C294.17,173.27 294.83,173.20 295.50,173.13 C296.17,173.05 296.83,172.97 297.50,172.90 C298.17,172.82 298.83,172.74 299.50,172.66 C300.17,172.58 300.83,172.49 301.50,172.41 C302.17,172.33 302.83,172.24 303.50,172.16 C304.17,172.07 304.83,171.98 305.50,171.90 C306.17,171.81 306.83,171.72 307.50,171.63 C308.17,171.54 308.83,171.45 309.50,171.36 C310.17,171.27 310.83,171.18 311.50,171.09 C312.17,170.99 312.83,170.90 313.50,170.81 C314.17,170.72 314.83,170.63 315.50,170.53 C316.17,170.44 316.83,170.35 317.50,170.26 C318.17,170.16 318.83,170.07 319.50,169.98 C320.17,169.89 320.83,169.80 321.50,169.71 C322.17,169.62 322.83,169.53 323.50,169.44 C324.17,169.35 324.83,169.26 325.50,169.17 C326.17,169.09 326.83,169.00 327.50,168.91 C328.17,168.83 328.83,168.74 329.50,168.66 C330.17,168.58 330.83,168.50 331.50,168.42 C332.17,168.33 332.83,168.26 333.50,168.18 C334.17,168.10 334.83,168.02 335.50,167.95 C336.17,167.88 336.83,167.80 337.50,167.73 C338.17,167.66 338.83,167.60 339.50,167.53 C340.17,167.46 340.83,167.40 341.50,167.34 C342.17,167.28 342.83,167.22 343.50,167.16 C344.17,167.10 345.17,167.03 345.50,167.00" stroke="#15152e" stroke-width="1.9" fill="none" stroke-linejoin="round" stroke-linecap="round"/>
<path d="M61.50,170.60 C61.83,170.70 62.83,171.00 63.50,171.22 C64.17,171.43 64.83,171.65 65.50,171.88 C66.17,172.11 66.83,172.35 67.50,172.59 C68.17,172.83 68.83,173.09 69.50,173.34 C70.17,173.60 70.83,173.87 71.50,174.14 C72.17,174.41 72.83,174.69 73.50,174.97 C74.17,175.26 74.83,175.55 75.50,175.85 C76.17,176.14 76.83,176.44 77.50,176.75 C78.17,177.06 78.83,177.37 79.50,177.69 C80.17,178.01 80.83,178.33 81.50,178.66 C82.17,178.98 82.83,179.31 83.50,179.65 C84.17,179.98 84.83,180.32 85.50,180.67 C86.17,181.01 86.83,181.36 87.50,181.71 C88.17,182.06 88.83,182.41 89.50,182.77 C90.17,183.13 90.83,183.49 91.50,183.85 C92.17,184.21 92.83,184.57 93.50,184.94 C94.17,185.31 94.83,185.68 95.50,186.05 C96.17,186.42 96.83,186.79 97.50,187.16 C98.17,187.54 98.83,187.91 99.50,188.29 C100.17,188.67 100.83,189.04 101.50,189.42 C102.17,189.80 102.83,190.18 103.50,190.55 C104.17,190.93 104.83,191.31 105.50,191.69 C106.17,192.07 106.83,192.44 107.50,192.82 C108.17,193.20 108.83,193.57 109.50,193.95 C110.17,194.32 110.83,194.70 111.50,195.07 C112.17,195.45 112.83,195.82 113.50,196.19 C114.17,196.56 114.83,196.92 115.50,197.29 C116.17,197.65 116.83,198.02 117.50,198.38 C118.17,198.74 118.83,199.10 119.50,199.45 C120.17,199.81 120.83,200.16 121.50,200.51 C122.17,200.86 122.83,201.20 123.50,201.54 C124.17,201.88 124.83,202.22 125.50,202.55 C126.17,202.89 126.83,203.22 127.50,203.54 C128.17,203.86 128.83,204.18 129.50,204.50 C130.17,204.81 130.83,205.12 131.50,205.43 C132.17,205.73 132.83,206.03 133.50,206.32 C134.17,206.62 134.83,206.90 135.50,207.19 C136.17,207.47 136.83,207.74 137.50,208.02 C138.17,208.29 138.83,208.55 139.50,208.81 C140.17,209.07 140.83,209.33 141.50,209.58 C142.17,209.83 142.83,210.07 143.50,210.31 C144.17,210.55 144.83,210.78 145.50,211.01 C146.17,211.23 146.83,211.46 147.50,211.67 C148.17,211.89 148.83,212.10 149.50,212.30 C150.17,212.51 150.83,212.71 151.50,212.90 C152.17,213.10 152.83,213.29 153.50,213.47 C154.17,213.66 154.83,213.83 155.50,214.01 C156.17,214.18 156.83,214.35 157.50,214.51 C158.17,214.67 158.83,214.83 159.50,214.98 C160.17,215.13 160.83,215.28 161.50,215.42 C162.17,215.56 162.83,215.69 163.50,215.82 C164.17,215.95 164.83,216.08 165.50,216.20 C166.17,216.32 166.83,216.43 167.50,216.54 C168.17,216.65 168.83,216.75 169.50,216.85 C170.17,216.94 170.83,217.04 171.50,217.12 C172.17,217.21 172.83,217.29 173.50,217.37 C174.17,217.45 174.83,217.52 175.50,217.58 C176.17,217.65 176.83,217.71 177.50,217.76 C178.17,217.82 178.83,217.87 179.50,217.91 C180.17,217.96 180.83,218.00 181.50,218.03 C182.17,218.06 182.83,218.09 183.50,218.12 C184.17,218.14 184.83,218.16 185.50,218.17 C186.17,218.18 186.83,218.19 187.50,218.19 C188.17,218.20 188.83,218.19 189.50,218.18 C190.17,218.18 190.83,218.16 191.50,218.14 C192.17,218.13 192.83,218.10 193.50,218.07 C194.17,218.04 194.83,218.01 195.50,217.97 C196.17,217.92 196.83,217.88 197.50,217.83 C198.17,217.77 198.83,217.71 199.50,217.65 C200.17,217.59 200.83,217.52 201.50,217.44 C202.17,217.36 202.83,217.28 203.50,217.19 C204.17,217.10 204.83,217.00 205.50,216.90 C206.17,216.80 206.83,216.69 207.50,216.57 C208.17,216.46 208.83,216.34 209.50,216.21 C210.17,216.08 210.83,215.94 211.50,215.80 C212.17,215.65 212.83,215.50 213.50,215.34 C214.17,215.19 214.83,215.02 215.50,214.85 C216.17,214.68 216.83,214.50 217.50,214.31 C218.17,214.12 218.83,213.92 219.50,213.72 C220.17,213.52 220.83,213.31 221.50,213.09 C222.17,212.87 222.83,212.64 223.50,212.41 C224.17,212.17 224.83,211.93 225.50,211.68 C226.17,211.42 226.83,211.16 227.50,210.90 C228.17,210.63 228.83,210.35 229.50,210.07 C230.17,209.78 230.83,209.49 231.50,209.19 C232.17,208.89 232.83,208.58 233.50,208.27 C234.17,207.96 234.83,207.64 235.50,207.31 C236.17,206.99 236.83,206.65 237.50,206.32 C238.17,205.98 238.83,205.63 239.50,205.28 C240.17,204.93 240.83,204.58 241.50,204.22 C242.17,203.86 242.83,203.50 243.50,203.13 C244.17,202.76 244.83,202.39 245.50,202.01 C246.17,201.63 246.83,201.25 247.50,200.87 C248.17,200.48 248.83,200.09 249.50,199.70 C250.17,199.31 250.83,198.92 251.50,198.52 C252.17,198.13 252.83,197.73 253.50,197.33 C254.17,196.93 254.83,196.53 255.50,196.12 C256.17,195.72 256.83,195.31 257.50,194.91 C258.17,194.50 258.83,194.09 259.50,193.69 C260.17,193.28 260.83,192.87 261.50,192.46 C262.17,192.05 262.83,191.64 263.50,191.24 C264.17,190.83 264.83,190.42 265.50,190.01 C266.17,189.61 266.83,189.20 267.50,188.80 C268.17,188.40 268.83,187.99 269.50,187.59 C270.17,187.19 270.83,186.79 271.50,186.40 C272.17,186.00 272.83,185.61 273.50,185.22 C274.17,184.83 274.83,184.44 275.50,184.06 C276.17,183.68 276.83,183.30 277.50,182.92 C278.17,182.55 278.83,182.17 279.50,181.81 C280.17,181.44 280.83,181.08 281.50,180.72 C282.17,180.36 282.83,180.01 283.50,179.66 C284.17,179.32 284.83,178.97 285.50,178.64 C286.17,178.31 286.83,177.98 287.50,177.65 C288.17,177.33 288.83,177.02 289.50,176.71 C290.17,176.40 290.83,176.10 291.50,175.80 C292.17,175.51 292.83,175.22 293.50,174.94 C294.17,174.66 294.83,174.39 295.50,174.12 C296.17,173.86 296.83,173.60 297.50,173.35 C298.17,173.10 298.83,172.85 299.50,172.62 C300.17,172.38 300.83,172.15 301.50,171.93 C302.17,171.70 302.83,171.49 303.50,171.28 C304.17,171.07 304.83,170.87 305.50,170.67 C306.17,170.48 306.83,170.29 307.50,170.11 C308.17,169.93 308.83,169.75 309.50,169.59 C310.17,169.42 310.83,169.26 311.50,169.10 C312.17,168.95 312.83,168.80 313.50,168.66 C314.17,168.52 314.83,168.39 315.50,168.26 C316.17,168.14 316.83,168.02 317.50,167.90 C318.17,167.79 318.83,167.68 319.50,167.59 C320.17,167.49 320.83,167.39 321.50,167.31 C322.17,167.22 322.83,167.14 323.50,167.07 C324.17,166.99 324.83,166.93 325.50,166.87 C326.17,166.81 326.83,166.75 327.50,166.71 C328.17,166.66 328.83,166.62 329.50,166.59 C330.17,166.55 330.83,166.53 331.50,166.50 C332.17,166.48 332.83,166.47 333.50,166.46 C334.17,166.45 334.83,166.45 335.50,166.46 C336.17,166.46 336.83,166.47 337.50,166.49 C338.17,166.51 338.83,166.53 339.50,166.56 C340.17,166.59 340.83,166.63 341.50,166.67 C342.17,166.71 342.83,166.76 343.50,166.82 C344.17,166.87 345.17,166.97 345.50,167.00" stroke="#6e1a28" stroke-width="1.9" fill="none" stroke-linejoin="round" stroke-linecap="round"/>
<path d="M61.50,167.40 C61.83,167.43 62.83,167.52 63.50,167.57 C64.17,167.62 64.83,167.66 65.50,167.71 C66.17,167.75 66.83,167.79 67.50,167.83 C68.17,167.86 68.83,167.89 69.50,167.92 C70.17,167.95 70.83,167.97 71.50,167.99 C72.17,168.01 72.83,168.03 73.50,168.05 C74.17,168.06 74.83,168.07 75.50,168.08 C76.17,168.09 76.83,168.10 77.50,168.10 C78.17,168.10 78.83,168.10 79.50,168.10 C80.17,168.10 80.83,168.10 81.50,168.09 C82.17,168.08 82.83,168.08 83.50,168.07 C84.17,168.06 84.83,168.05 85.50,168.03 C86.17,168.02 86.83,168.00 87.50,167.99 C88.17,167.97 88.83,167.95 89.50,167.94 C90.17,167.92 90.83,167.90 91.50,167.88 C92.17,167.86 92.83,167.83 93.50,167.81 C94.17,167.79 94.83,167.77 95.50,167.74 C96.17,167.72 96.83,167.70 97.50,167.67 C98.17,167.65 98.83,167.63 99.50,167.60 C100.17,167.58 100.83,167.56 101.50,167.53 C102.17,167.51 102.83,167.49 103.50,167.47 C104.17,167.44 104.83,167.42 105.50,167.40 C106.17,167.38 106.83,167.36 107.50,167.34 C108.17,167.33 108.83,167.31 109.50,167.29 C110.17,167.28 110.83,167.26 111.50,167.25 C112.17,167.24 112.83,167.22 113.50,167.21 C114.17,167.20 114.83,167.20 115.50,167.19 C116.17,167.18 116.83,167.18 117.50,167.18 C118.17,167.18 118.83,167.18 119.50,167.18 C120.17,167.19 120.83,167.19 121.50,167.20 C122.17,167.21 122.83,167.22 123.50,167.24 C124.17,167.25 124.83,167.27 125.50,167.29 C126.17,167.31 126.83,167.34 127.50,167.37 C128.17,167.39 128.83,167.43 129.50,167.46 C130.17,167.50 130.83,167.54 131.50,167.58 C132.17,167.62 132.83,167.67 133.50,167.73 C134.17,167.78 134.83,167.84 135.50,167.91 C136.17,167.97 136.83,168.05 137.50,168.13 C138.17,168.21 138.83,168.29 139.50,168.39 C140.17,168.49 140.83,168.59 141.50,168.71 C142.17,168.82 142.83,168.95 143.50,169.08 C144.17,169.22 144.83,169.36 145.50,169.52 C146.17,169.68 146.83,169.85 147.50,170.03 C148.17,170.21 148.83,170.40 149.50,170.61 C150.17,170.82 150.83,171.04 151.50,171.27 C152.17,171.51 152.83,171.76 153.50,172.02 C154.17,172.29 154.83,172.57 155.50,172.87 C156.17,173.17 156.83,173.48 157.50,173.81 C158.17,174.14 158.83,174.49 159.50,174.86 C160.17,175.23 160.83,175.61 161.50,176.02 C162.17,176.42 162.83,176.85 163.50,177.28 C164.17,177.72 164.83,178.18 165.50,178.65 C166.17,179.12 166.83,179.61 167.50,180.10 C168.17,180.60 168.83,181.12 169.50,181.64 C170.17,182.17 170.83,182.71 171.50,183.26 C172.17,183.81 172.83,184.37 173.50,184.95 C174.17,185.52 174.83,186.10 175.50,186.69 C176.17,187.28 176.83,187.88 177.50,188.49 C178.17,189.10 178.83,189.71 179.50,190.33 C180.17,190.96 180.83,191.58 181.50,192.22 C182.17,192.85 182.83,193.49 183.50,194.13 C184.17,194.77 184.83,195.42 185.50,196.07 C186.17,196.71 186.83,197.36 187.50,198.02 C188.17,198.67 188.83,199.32 189.50,199.97 C190.17,200.63 190.83,201.28 191.50,201.93 C192.17,202.58 192.83,203.23 193.50,203.88 C194.17,204.53 194.83,205.17 195.50,205.81 C196.17,206.46 196.83,207.09 197.50,207.73 C198.17,208.36 198.83,208.98 199.50,209.60 C200.17,210.23 200.83,210.84 201.50,211.45 C202.17,212.05 202.83,212.65 203.50,213.24 C204.17,213.83 204.83,214.41 205.50,214.98 C206.17,215.55 206.83,216.11 207.50,216.66 C208.17,217.21 208.83,217.75 209.50,218.27 C210.17,218.79 210.83,219.30 211.50,219.79 C212.17,220.29 212.83,220.77 213.50,221.23 C214.17,221.69 214.83,222.14 215.50,222.56 C216.17,222.99 216.83,223.40 217.50,223.79 C218.17,224.17 218.83,224.54 219.50,224.89 C220.17,225.24 220.83,225.56 221.50,225.86 C222.17,226.16 222.83,226.44 223.50,226.70 C224.17,226.95 224.83,227.18 225.50,227.38 C226.17,227.58 226.83,227.76 227.50,227.91 C228.17,228.05 228.83,228.18 229.50,228.26 C230.17,228.35 230.83,228.42 231.50,228.44 C232.17,228.47 232.83,228.47 233.50,228.44 C234.17,228.40 234.83,228.33 235.50,228.23 C236.17,228.13 236.83,227.99 237.50,227.82 C238.17,227.66 238.83,227.45 239.50,227.23 C240.17,227.00 240.83,226.74 241.50,226.45 C242.17,226.16 242.83,225.85 243.50,225.51 C244.17,225.17 244.83,224.80 245.50,224.41 C246.17,224.02 246.83,223.61 247.50,223.17 C248.17,222.74 248.83,222.28 249.50,221.80 C250.17,221.33 250.83,220.83 251.50,220.31 C252.17,219.80 252.83,219.27 253.50,218.72 C254.17,218.17 254.83,217.60 255.50,217.03 C256.17,216.45 256.83,215.85 257.50,215.25 C258.17,214.64 258.83,214.03 259.50,213.40 C260.17,212.77 260.83,212.14 261.50,211.49 C262.17,210.85 262.83,210.19 263.50,209.53 C264.17,208.88 264.83,208.21 265.50,207.54 C266.17,206.87 266.83,206.19 267.50,205.52 C268.17,204.84 268.83,204.15 269.50,203.47 C270.17,202.79 270.83,202.10 271.50,201.41 C272.17,200.73 272.83,200.04 273.50,199.35 C274.17,198.67 274.83,197.98 275.50,197.30 C276.17,196.61 276.83,195.93 277.50,195.25 C278.17,194.58 278.83,193.90 279.50,193.23 C280.17,192.56 280.83,191.90 281.50,191.24 C282.17,190.58 282.83,189.93 283.50,189.29 C284.17,188.64 284.83,188.01 285.50,187.38 C286.17,186.75 286.83,186.13 287.50,185.53 C288.17,184.92 288.83,184.32 289.50,183.74 C290.17,183.15 290.83,182.58 291.50,182.02 C292.17,181.46 292.83,180.92 293.50,180.39 C294.17,179.85 294.83,179.34 295.50,178.84 C296.17,178.34 296.83,177.85 297.50,177.39 C298.17,176.92 298.83,176.47 299.50,176.04 C300.17,175.61 300.83,175.20 301.50,174.81 C302.17,174.42 302.83,174.05 303.50,173.69 C304.17,173.33 304.83,173.00 305.50,172.68 C306.17,172.36 306.83,172.05 307.50,171.77 C308.17,171.48 308.83,171.21 309.50,170.95 C310.17,170.70 310.83,170.46 311.50,170.23 C312.17,170.00 312.83,169.79 313.50,169.59 C314.17,169.40 314.83,169.21 315.50,169.04 C316.17,168.87 316.83,168.71 317.50,168.56 C318.17,168.41 318.83,168.28 319.50,168.15 C320.17,168.03 320.83,167.92 321.50,167.81 C322.17,167.71 322.83,167.62 323.50,167.53 C324.17,167.45 324.83,167.37 325.50,167.31 C326.17,167.24 326.83,167.18 327.50,167.13 C328.17,167.08 328.83,167.04 329.50,167.01 C330.17,166.97 330.83,166.94 331.50,166.92 C332.17,166.89 332.83,166.88 333.50,166.86 C334.17,166.85 334.83,166.85 335.50,166.84 C336.17,166.84 336.83,166.84 337.50,166.84 C338.17,166.85 338.83,166.86 339.50,166.87 C340.17,166.88 340.83,166.89 341.50,166.90 C342.17,166.92 342.83,166.93 343.50,166.95 C344.17,166.97 345.17,166.99 345.50,167.00" stroke="#c83cd8" stroke-width="1.75" fill="none" stroke-linejoin="round" stroke-linecap="round"/>
<path d="M61.50,167.00 C61.83,166.99 62.83,166.96 63.50,166.94 C64.17,166.92 64.83,166.90 65.50,166.88 C66.17,166.87 66.83,166.85 67.50,166.83 C68.17,166.82 68.83,166.80 69.50,166.78 C70.17,166.77 70.83,166.75 71.50,166.74 C72.17,166.72 72.83,166.71 73.50,166.70 C74.17,166.68 74.83,166.67 75.50,166.66 C76.17,166.64 76.83,166.63 77.50,166.62 C78.17,166.61 78.83,166.60 79.50,166.58 C80.17,166.57 80.83,166.56 81.50,166.55 C82.17,166.54 82.83,166.53 83.50,166.52 C84.17,166.51 84.83,166.50 85.50,166.49 C86.17,166.48 86.83,166.47 87.50,166.46 C88.17,166.45 88.83,166.44 89.50,166.43 C90.17,166.42 90.83,166.41 91.50,166.40 C92.17,166.39 92.83,166.38 93.50,166.37 C94.17,166.36 94.83,166.35 95.50,166.34 C96.17,166.33 96.83,166.31 97.50,166.30 C98.17,166.29 98.83,166.28 99.50,166.27 C100.17,166.26 100.83,166.25 101.50,166.24 C102.17,166.22 102.83,166.21 103.50,166.20 C104.17,166.19 104.83,166.17 105.50,166.16 C106.17,166.15 106.83,166.13 107.50,166.12 C108.17,166.11 108.83,166.09 109.50,166.08 C110.17,166.06 110.83,166.05 111.50,166.03 C112.17,166.01 112.83,166.00 113.50,165.98 C114.17,165.96 114.83,165.94 115.50,165.92 C116.17,165.91 116.83,165.89 117.50,165.87 C118.17,165.85 118.83,165.83 119.50,165.80 C120.17,165.78 120.83,165.76 121.50,165.74 C122.17,165.71 122.83,165.69 123.50,165.67 C124.17,165.64 124.83,165.62 125.50,165.59 C126.17,165.57 126.83,165.55 127.50,165.52 C128.17,165.50 128.83,165.48 129.50,165.46 C130.17,165.43 130.83,165.41 131.50,165.39 C132.17,165.37 132.83,165.36 133.50,165.34 C134.17,165.32 134.83,165.31 135.50,165.29 C136.17,165.28 136.83,165.27 137.50,165.26 C138.17,165.25 138.83,165.24 139.50,165.24 C140.17,165.24 140.83,165.23 141.50,165.23 C142.17,165.24 142.83,165.24 143.50,165.25 C144.17,165.26 144.83,165.27 145.50,165.28 C146.17,165.30 146.83,165.31 147.50,165.34 C148.17,165.36 148.83,165.39 149.50,165.42 C150.17,165.45 150.83,165.48 151.50,165.52 C152.17,165.56 152.83,165.61 153.50,165.66 C154.17,165.71 154.83,165.76 155.50,165.82 C156.17,165.88 156.83,165.95 157.50,166.02 C158.17,166.09 158.83,166.17 159.50,166.25 C160.17,166.33 160.83,166.42 161.50,166.52 C162.17,166.62 162.83,166.72 163.50,166.83 C164.17,166.94 164.83,167.05 165.50,167.18 C166.17,167.30 166.83,167.43 167.50,167.57 C168.17,167.71 168.83,167.85 169.50,168.01 C170.17,168.16 170.83,168.32 171.50,168.49 C172.17,168.66 172.83,168.84 173.50,169.03 C174.17,169.21 174.83,169.41 175.50,169.61 C176.17,169.81 176.83,170.02 177.50,170.24 C178.17,170.45 178.83,170.68 179.50,170.91 C180.17,171.14 180.83,171.37 181.50,171.62 C182.17,171.86 182.83,172.10 183.50,172.36 C184.17,172.61 184.83,172.86 185.50,173.13 C186.17,173.39 186.83,173.65 187.50,173.92 C188.17,174.19 188.83,174.46 189.50,174.73 C190.17,175.01 190.83,175.29 191.50,175.57 C192.17,175.85 192.83,176.13 193.50,176.41 C194.17,176.69 194.83,176.98 195.50,177.26 C196.17,177.55 196.83,177.84 197.50,178.12 C198.17,178.41 198.83,178.69 199.50,178.98 C200.17,179.27 200.83,179.55 201.50,179.83 C202.17,180.12 202.83,180.40 203.50,180.68 C204.17,180.96 204.83,181.24 205.50,181.52 C206.17,181.79 206.83,182.06 207.50,182.33 C208.17,182.60 208.83,182.87 209.50,183.13 C210.17,183.39 210.83,183.65 211.50,183.91 C212.17,184.16 212.83,184.41 213.50,184.65 C214.17,184.89 214.83,185.13 215.50,185.35 C216.17,185.58 216.83,185.80 217.50,186.01 C218.17,186.22 218.83,186.42 219.50,186.61 C220.17,186.80 220.83,186.98 221.50,187.14 C222.17,187.31 222.83,187.46 223.50,187.60 C224.17,187.74 224.83,187.87 225.50,187.99 C226.17,188.10 226.83,188.20 227.50,188.28 C228.17,188.36 228.83,188.42 229.50,188.47 C230.17,188.52 230.83,188.55 231.50,188.56 C232.17,188.57 232.83,188.56 233.50,188.54 C234.17,188.52 234.83,188.48 235.50,188.42 C236.17,188.37 236.83,188.30 237.50,188.21 C238.17,188.12 238.83,188.02 239.50,187.90 C240.17,187.79 240.83,187.65 241.50,187.51 C242.17,187.36 242.83,187.20 243.50,187.03 C244.17,186.86 244.83,186.67 245.50,186.47 C246.17,186.27 246.83,186.06 247.50,185.83 C248.17,185.61 248.83,185.37 249.50,185.12 C250.17,184.88 250.83,184.62 251.50,184.35 C252.17,184.08 252.83,183.80 253.50,183.51 C254.17,183.22 254.83,182.92 255.50,182.61 C256.17,182.30 256.83,181.98 257.50,181.65 C258.17,181.32 258.83,180.98 259.50,180.64 C260.17,180.30 260.83,179.94 261.50,179.59 C262.17,179.23 262.83,178.86 263.50,178.49 C264.17,178.12 264.83,177.75 265.50,177.37 C266.17,176.99 266.83,176.61 267.50,176.23 C268.17,175.85 268.83,175.46 269.50,175.08 C270.17,174.70 270.83,174.32 271.50,173.94 C272.17,173.56 272.83,173.18 273.50,172.80 C274.17,172.43 274.83,172.06 275.50,171.70 C276.17,171.33 276.83,170.97 277.50,170.62 C278.17,170.27 278.83,169.93 279.50,169.60 C280.17,169.26 280.83,168.94 281.50,168.62 C282.17,168.31 282.83,168.00 283.50,167.71 C284.17,167.42 284.83,167.13 285.50,166.86 C286.17,166.59 286.83,166.33 287.50,166.08 C288.17,165.84 288.83,165.60 289.50,165.38 C290.17,165.16 290.83,164.95 291.50,164.76 C292.17,164.57 292.83,164.38 293.50,164.22 C294.17,164.05 294.83,163.89 295.50,163.75 C296.17,163.60 296.83,163.47 297.50,163.35 C298.17,163.23 298.83,163.12 299.50,163.02 C300.17,162.92 300.83,162.83 301.50,162.75 C302.17,162.68 302.83,162.61 303.50,162.55 C304.17,162.50 304.83,162.45 305.50,162.41 C306.17,162.37 306.83,162.34 307.50,162.32 C308.17,162.30 308.83,162.29 309.50,162.29 C310.17,162.29 310.83,162.29 311.50,162.30 C312.17,162.32 312.83,162.34 313.50,162.36 C314.17,162.39 314.83,162.43 315.50,162.47 C316.17,162.51 316.83,162.56 317.50,162.61 C318.17,162.67 318.83,162.73 319.50,162.79 C320.17,162.86 320.83,162.93 321.50,163.01 C322.17,163.08 322.83,163.16 323.50,163.25 C324.17,163.34 324.83,163.43 325.50,163.52 C326.17,163.61 326.83,163.71 327.50,163.81 C328.17,163.92 328.83,164.02 329.50,164.13 C330.17,164.24 330.83,164.35 331.50,164.46 C332.17,164.57 332.83,164.69 333.50,164.81 C334.17,164.92 334.83,165.04 335.50,165.16 C336.17,165.28 336.83,165.41 337.50,165.53 C338.17,165.65 338.83,165.78 339.50,165.90 C340.17,166.02 340.83,166.15 341.50,166.27 C342.17,166.39 342.83,166.52 343.50,166.64 C344.17,166.76 345.17,166.94 345.50,167.00" stroke="#d0282c" stroke-width="1.8" fill="none" stroke-linejoin="round" stroke-linecap="round"/>
<g stroke="#555" stroke-width="1.05" fill="none"><polyline points="305.4,126.2 405.5,126.2"/><polyline points="204.8,136.1 405.5,146.2"/><polyline points="240.5,190.3 405.5,180.1"/><polyline points="205.5,200.9 405.5,200.9"/><polyline points="251.5,220.7 405.5,220.7"/><polyline points="195.6,219.9 209.9,240.7 405.5,240.7"/><polyline points="223,256.1 405.5,256.1"/></g>
<rect x="46.9" y="113.2" width="313.30" height="148.20" fill="none" stroke="#3a3a3a" stroke-width="1.3"/>
<g stroke="#222" stroke-width="1.2"><line x1="53.02" y1="113.2" x2="53.02" y2="115.20"/><line x1="53.02" y1="260.20" x2="53.02" y2="262.60"/><line x1="68.04" y1="113.2" x2="68.04" y2="115.20"/><line x1="68.04" y1="260.20" x2="68.04" y2="262.60"/><line x1="83.06" y1="113.2" x2="83.06" y2="115.20"/><line x1="83.06" y1="260.20" x2="83.06" y2="262.60"/><line x1="98.08" y1="113.2" x2="98.08" y2="115.20"/><line x1="98.08" y1="260.20" x2="98.08" y2="262.60"/><line x1="113.10" y1="113.2" x2="113.10" y2="116.20"/><line x1="113.10" y1="258.90" x2="113.10" y2="264.20"/><line x1="128.12" y1="113.2" x2="128.12" y2="115.20"/><line x1="128.12" y1="260.20" x2="128.12" y2="262.60"/><line x1="143.14" y1="113.2" x2="143.14" y2="115.20"/><line x1="143.14" y1="260.20" x2="143.14" y2="262.60"/><line x1="158.16" y1="113.2" x2="158.16" y2="115.20"/><line x1="158.16" y1="260.20" x2="158.16" y2="262.60"/><line x1="173.18" y1="113.2" x2="173.18" y2="115.20"/><line x1="173.18" y1="260.20" x2="173.18" y2="262.60"/><line x1="188.20" y1="113.2" x2="188.20" y2="116.20"/><line x1="188.20" y1="258.90" x2="188.20" y2="264.20"/><line x1="203.22" y1="113.2" x2="203.22" y2="115.20"/><line x1="203.22" y1="260.20" x2="203.22" y2="262.60"/><line x1="218.24" y1="113.2" x2="218.24" y2="115.20"/><line x1="218.24" y1="260.20" x2="218.24" y2="262.60"/><line x1="233.26" y1="113.2" x2="233.26" y2="115.20"/><line x1="233.26" y1="260.20" x2="233.26" y2="262.60"/><line x1="248.28" y1="113.2" x2="248.28" y2="115.20"/><line x1="248.28" y1="260.20" x2="248.28" y2="262.60"/><line x1="263.30" y1="113.2" x2="263.30" y2="116.20"/><line x1="263.30" y1="258.90" x2="263.30" y2="264.20"/><line x1="278.32" y1="113.2" x2="278.32" y2="115.20"/><line x1="278.32" y1="260.20" x2="278.32" y2="262.60"/><line x1="293.34" y1="113.2" x2="293.34" y2="115.20"/><line x1="293.34" y1="260.20" x2="293.34" y2="262.60"/><line x1="308.36" y1="113.2" x2="308.36" y2="115.20"/><line x1="308.36" y1="260.20" x2="308.36" y2="262.60"/><line x1="323.38" y1="113.2" x2="323.38" y2="115.20"/><line x1="323.38" y1="260.20" x2="323.38" y2="262.60"/><line x1="338.40" y1="113.2" x2="338.40" y2="116.20"/><line x1="338.40" y1="258.90" x2="338.40" y2="264.20"/><line x1="353.42" y1="113.2" x2="353.42" y2="115.20"/><line x1="353.42" y1="260.20" x2="353.42" y2="262.60"/><line x1="43.90" y1="258.27" x2="48.90" y2="258.27"/><line x1="357.70" y1="258.27" x2="360.20" y2="258.27"/><line x1="45.90" y1="252.23" x2="48.10" y2="252.23"/><line x1="359.00" y1="252.23" x2="360.20" y2="252.23"/><line x1="45.90" y1="246.19" x2="48.10" y2="246.19"/><line x1="359.00" y1="246.19" x2="360.20" y2="246.19"/><line x1="45.90" y1="240.14" x2="48.10" y2="240.14"/><line x1="359.00" y1="240.14" x2="360.20" y2="240.14"/><line x1="45.90" y1="234.09" x2="48.10" y2="234.09"/><line x1="359.00" y1="234.09" x2="360.20" y2="234.09"/><line x1="43.90" y1="228.05" x2="48.90" y2="228.05"/><line x1="357.70" y1="228.05" x2="360.20" y2="228.05"/><line x1="45.90" y1="222.00" x2="48.10" y2="222.00"/><line x1="359.00" y1="222.00" x2="360.20" y2="222.00"/><line x1="45.90" y1="215.96" x2="48.10" y2="215.96"/><line x1="359.00" y1="215.96" x2="360.20" y2="215.96"/><line x1="45.90" y1="209.91" x2="48.10" y2="209.91"/><line x1="359.00" y1="209.91" x2="360.20" y2="209.91"/><line x1="45.90" y1="203.87" x2="48.10" y2="203.87"/><line x1="359.00" y1="203.87" x2="360.20" y2="203.87"/><line x1="43.90" y1="197.82" x2="48.90" y2="197.82"/><line x1="357.70" y1="197.82" x2="360.20" y2="197.82"/><line x1="45.90" y1="191.78" x2="48.10" y2="191.78"/><line x1="359.00" y1="191.78" x2="360.20" y2="191.78"/><line x1="45.90" y1="185.73" x2="48.10" y2="185.73"/><line x1="359.00" y1="185.73" x2="360.20" y2="185.73"/><line x1="45.90" y1="179.69" x2="48.10" y2="179.69"/><line x1="359.00" y1="179.69" x2="360.20" y2="179.69"/><line x1="45.90" y1="173.64" x2="48.10" y2="173.64"/><line x1="359.00" y1="173.64" x2="360.20" y2="173.64"/><line x1="43.90" y1="167.60" x2="48.90" y2="167.60"/><line x1="357.70" y1="167.60" x2="360.20" y2="167.60"/><line x1="45.90" y1="161.56" x2="48.10" y2="161.56"/><line x1="359.00" y1="161.56" x2="360.20" y2="161.56"/><line x1="45.90" y1="155.51" x2="48.10" y2="155.51"/><line x1="359.00" y1="155.51" x2="360.20" y2="155.51"/><line x1="45.90" y1="149.47" x2="48.10" y2="149.47"/><line x1="359.00" y1="149.47" x2="360.20" y2="149.47"/><line x1="45.90" y1="143.42" x2="48.10" y2="143.42"/><line x1="359.00" y1="143.42" x2="360.20" y2="143.42"/><line x1="43.90" y1="137.38" x2="48.90" y2="137.38"/><line x1="357.70" y1="137.38" x2="360.20" y2="137.38"/><line x1="45.90" y1="131.33" x2="48.10" y2="131.33"/><line x1="359.00" y1="131.33" x2="360.20" y2="131.33"/><line x1="45.90" y1="125.28" x2="48.10" y2="125.28"/><line x1="359.00" y1="125.28" x2="360.20" y2="125.28"/><line x1="45.90" y1="119.24" x2="48.10" y2="119.24"/><line x1="359.00" y1="119.24" x2="360.20" y2="119.24"/></g>
<rect x="5.5" y="93.6" width="364" height="199.4" fill="none" stroke="#4a4a4a" stroke-width="1.3"/>
<text x="186.6" y="106.3" font-family="Liberation Sans, sans-serif" font-size="8" font-weight="bold" text-anchor="middle" fill="#111" stroke="#111" stroke-width="0.15">Difference Curve</text><text x="202.6" y="286.0" font-family="Liberation Sans, sans-serif" font-size="8.1" font-weight="bold" text-anchor="middle" fill="#111" stroke="#111" stroke-width="0.15">Temperature</text><text transform="translate(16.3,187.3) rotate(-90)" font-family="Liberation Sans, sans-serif" font-size="8.3" font-weight="bold" text-anchor="middle" fill="#111" stroke="#111" stroke-width="0.15">Difference RFU</text><text x="41" y="140.28" font-family="Liberation Sans, sans-serif" font-size="7.8" text-anchor="end" fill="#1a1a1a" stroke="#1a1a1a" stroke-width="0.25">0.05</text><text x="41" y="170.50" font-family="Liberation Sans, sans-serif" font-size="7.8" text-anchor="end" fill="#1a1a1a" stroke="#1a1a1a" stroke-width="0.25">0.00</text><text x="41" y="200.72" font-family="Liberation Sans, sans-serif" font-size="7.8" text-anchor="end" fill="#1a1a1a" stroke="#1a1a1a" stroke-width="0.25">-0.05</text><text x="41" y="230.95" font-family="Liberation Sans, sans-serif" font-size="7.8" text-anchor="end" fill="#1a1a1a" stroke="#1a1a1a" stroke-width="0.25">-0.10</text><text x="41" y="261.17" font-family="Liberation Sans, sans-serif" font-size="7.8" text-anchor="end" fill="#1a1a1a" stroke="#1a1a1a" stroke-width="0.25">-0.15</text><text x="113.10" y="274.2" font-family="Liberation Sans, sans-serif" font-size="8.5" text-anchor="middle" fill="#1a1a1a" stroke="#1a1a1a" stroke-width="0.25">80</text><text x="188.20" y="274.2" font-family="Liberation Sans, sans-serif" font-size="8.5" text-anchor="middle" fill="#1a1a1a" stroke="#1a1a1a" stroke-width="0.25">81</text><text x="263.30" y="274.2" font-family="Liberation Sans, sans-serif" font-size="8.5" text-anchor="middle" fill="#1a1a1a" stroke="#1a1a1a" stroke-width="0.25">82</text><text x="338.40" y="274.2" font-family="Liberation Sans, sans-serif" font-size="8.5" text-anchor="middle" fill="#1a1a1a" stroke="#1a1a1a" stroke-width="0.25">83</text><text x="411.6" y="128.3" font-family="Liberation Sans, sans-serif" font-size="9.05" font-weight="bold" fill="#eeaa78" textLength="54.2" lengthAdjust="spacing">SNP (E381A)</text><text x="411.6" y="147.6" font-family="Liberation Sans, sans-serif" font-size="9.05" font-weight="bold" fill="#6c668f" textLength="88.9" lengthAdjust="spacing">Type 2 (p.K385fs*47)</text><text x="411.6" y="166.0" font-family="Liberation Sans, sans-serif" font-size="9.05" font-weight="bold" fill="#111111" textLength="42.6" lengthAdjust="spacing">Wild type</text><text x="411.6" y="185.2" font-family="Liberation Sans, sans-serif" font-size="9.05" font-weight="bold" fill="#c41e30" textLength="97.7" lengthAdjust="spacing">Type 34 (p.K385fs*47)</text><text x="411.6" y="204.1" font-family="Liberation Sans, sans-serif" font-size="9.05" font-weight="bold" fill="#3f8f45" textLength="54.6" lengthAdjust="spacing">p.E369fs*50</text><text x="411.6" y="223.2" font-family="Liberation Sans, sans-serif" font-size="9.05" font-weight="bold" fill="#d886d8" textLength="90.4" lengthAdjust="spacing">Type 3 (p.L367fs*48)</text><text x="411.6" y="242.9" font-family="Liberation Sans, sans-serif" font-size="9.05" font-weight="bold" fill="#80502f" textLength="53.3" lengthAdjust="spacing">p.L367fs*43</text><text x="411.6" y="260.9" font-family="Liberation Sans, sans-serif" font-size="9.05" font-weight="bold" fill="#547aa5" textLength="90.4" lengthAdjust="spacing">Type 1 (p.L367fs*46)</text>
</svg>
</body></html>
